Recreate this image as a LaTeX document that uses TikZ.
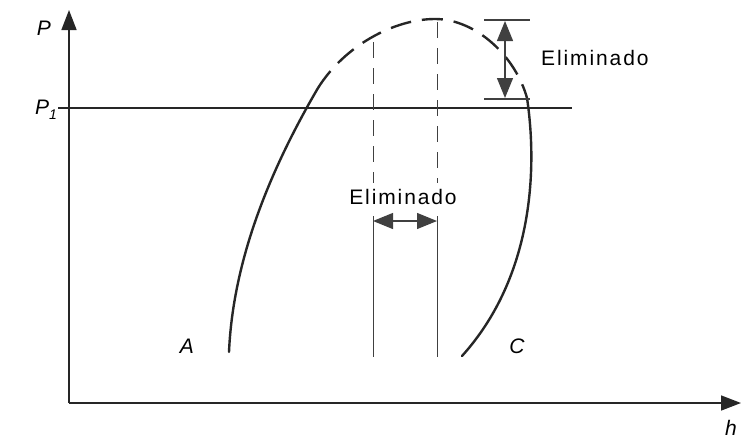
\documentclass[tikz,border=0pt]{standalone}
\usepackage{fontspec}
\setmainfont{Liberation Sans}
\usetikzlibrary{arrows.meta}
\tikzset{
  axis/.style={line width=1.6pt, draw=black!85},
  curve/.style={line width=2.4pt, draw=black!85, line cap=round},
  dcurve/.style={curve, line cap=butt, dash pattern=on 21pt off 11pt},
  thin/.style={line width=1pt, draw=black!75},
  dthin/.style={thin, dash pattern=on 16pt off 10pt},
  lbl/.style={font=\fontsize{21}{24}\selectfont\itshape, inner sep=0pt},
  elim/.style={font=\fontsize{21}{24}\selectfont\addfontfeature{LetterSpace=9}, inner sep=0pt},
  tip/.style={-{Triangle[length=20pt,width=15pt]}},
  dtip/.style={{Triangle[length=20pt,width=16pt]}-{Triangle[length=20pt,width=16pt]}},
}
\begin{document}
\begin{tikzpicture}[x=1pt,y=-1pt]
\useasboundingbox (0,0) rectangle (741,439);
% axes
\coordinate (O) at (69,403);
\coordinate (Ptop) at (69,10);
\coordinate (Hend) at (741,403);
\draw[axis, tip] (O) -- (Ptop);
\draw[axis, tip] (O) -- (Hend);
\node[lbl] (P) at (44,28) {P};
\node[lbl] (P1) at (46,110) {P\raisebox{-0.25em}{\fontsize{14}{16}\selectfont 1}};
\node[lbl] (h) at (731,428) {h};
\node[lbl] (A) at (187,346) {A};
\node[lbl] (C) at (517,346) {C};
% P1 line
\coordinate (L1) at (58,108);
\coordinate (L2) at (572,108);
\draw[axis, line width=1.3pt] (L1) -- (L2);
% saturation dome
\coordinate (cA) at (229,352);
\coordinate (cL) at (318,88);
\coordinate (cT) at (435,19);
\coordinate (cR) at (527,98);
\coordinate (cC) at (462,356);
\draw[curve] (cA) .. controls (233,260) and (270,170) .. (cL);
\draw[dcurve] (cL) .. controls (345,45) and (395,19) .. (cT)
                   .. controls (475,19) and (515,55) .. (cR);
\draw[curve] (cR) .. controls (537,165) and (535,275) .. (cC);
% vertical lines
\draw[dthin] (373,42) -- (373,183);
\draw[dthin] (437,22) -- (437,183);
\draw[thin] (373,216) -- (373,357);
\draw[thin] (437,216) -- (437,357);
% middle label and arrow
\node[elim] (E1) at (403,197) {Eliminado};
\coordinate (m1) at (373,221);
\coordinate (m2) at (437,221);
\draw[thin, line width=1.2pt, dtip] (m1) -- (m2);
% right dimension
\coordinate (t1) at (484,20);
\coordinate (t2) at (530,20);
\coordinate (b1) at (484,99);
\coordinate (b2) at (530,99);
\draw[thin, line width=1.3pt] (t1) -- (t2);
\draw[thin, line width=1.3pt] (b1) -- (b2);
\coordinate (v1) at (505,21);
\coordinate (v2) at (505,98);
\draw[thin, line width=1.3pt, dtip] (v1) -- (v2);
\node[elim, anchor=west] (E2) at (541,58) {Eliminado};
\end{tikzpicture}
\end{document}
